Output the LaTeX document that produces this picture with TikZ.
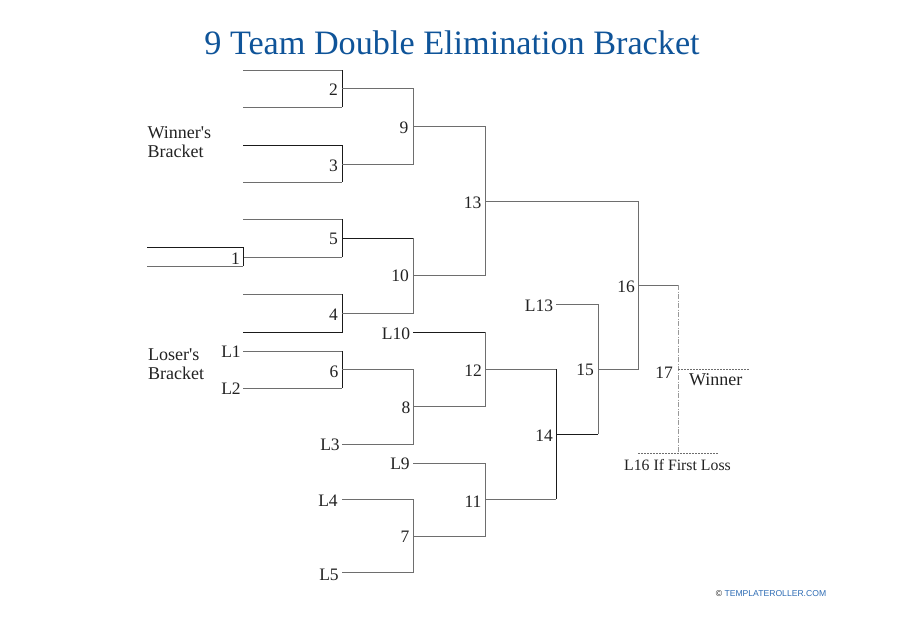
\documentclass[tikz,border=0pt]{standalone}
\usepackage{fontspec}
\setmainfont{Liberation Serif}
\newfontfamily\footfont{Liberation Sans}
\definecolor{titleblue}{HTML}{0F5499}
\definecolor{linegray}{HTML}{6E6E6E}
\definecolor{lineblack}{HTML}{1A1A1A}
\definecolor{footblue}{HTML}{2F6DB5}
\definecolor{textdark}{HTML}{222222}
\tikzset{
  gline/.style={draw=linegray,line width=1pt},
  kline/.style={draw=lineblack,line width=0.8pt},
  dotline/.style={draw=linegray,line width=0.7pt,dash pattern=on 1.5pt off 1.5pt},
  dashv/.style={draw=linegray!70,line width=0.8pt,dash pattern=on 5pt off 1.5pt on 1pt off 1.5pt},
  lab/.style={inner sep=0pt,text=textdark,yshift=-0.6pt,font=\fontsize{17.5}{19}\selectfont},
  small/.style={inner sep=0pt,text=textdark,font=\fontsize{18}{19}\selectfont,align=left}
}
\newcommand{\PT}[3]{\coordinate (#1) at (#2pt,-#3pt);}
\begin{document}
\begin{tikzpicture}[x=1pt,y=1pt]
\useasboundingbox (0,0) rectangle (905,-640);
\fill[white] (0,0) rectangle (905,-640);
% title
\node[inner sep=0pt,text=titleblue,font=\fontsize{34.2}{40}\selectfont] (title) at (452,-43) {9 Team Double Elimination Bracket};
% winner's bracket corners
\PT{a1}{243}{70}\PT{a2}{342}{70}\PT{a3}{342}{107}\PT{a4}{243}{107}
\PT{b1}{243}{145}\PT{b2}{342}{145}\PT{b3}{342}{182}\PT{b4}{243}{182}
\PT{c1}{243}{219}\PT{c2}{342}{219}\PT{c3}{342}{257}\PT{c4}{243}{257}
\PT{d1}{243}{294}\PT{d2}{342}{294}\PT{d3}{342}{332}\PT{d4}{243}{332}
\PT{e1}{147}{247}\PT{e2}{243}{247}\PT{e3}{243}{266}\PT{e4}{147}{266}
\PT{f1}{342}{88}\PT{f2}{413}{88}\PT{f3}{413}{164}\PT{f4}{342}{164}
\PT{g1}{342}{238}\PT{g2}{413}{238}\PT{g3}{413}{313}\PT{g4}{342}{313}
\PT{h1}{413}{126}\PT{h2}{485}{126}\PT{h3}{485}{275}\PT{h4}{413}{275}
\PT{i1}{485}{201}\PT{i2}{638}{201}\PT{i3}{638}{369}\PT{i4}{598}{369}
% loser's bracket corners
\PT{j1}{243}{351}\PT{j2}{342}{351}\PT{j3}{342}{388}\PT{j4}{243}{388}
\PT{k1}{342}{369}\PT{k2}{413}{369}\PT{k3}{413}{444}\PT{k4}{342}{444}
\PT{l1}{342}{499}\PT{l2}{413}{499}\PT{l3}{413}{572}\PT{l4}{342}{572}
\PT{m1}{413}{332}\PT{m2}{485}{332}\PT{m3}{485}{406}\PT{m4}{413}{406}
\PT{n1}{413}{463}\PT{n2}{485}{463}\PT{n3}{485}{536}\PT{n4}{413}{536}
\PT{o1}{485}{369}\PT{o2}{556}{369}\PT{o3}{556}{499}\PT{o4}{485}{499}
\PT{p1}{556}{304}\PT{p2}{598}{304}\PT{p3}{598}{434}\PT{p4}{556}{434}
\PT{q1}{638}{285}\PT{q2}{678}{285}\PT{q3}{678}{453}
\PT{r1}{678}{369}\PT{r2}{750}{369}
\PT{s1}{638}{453}\PT{s2}{719}{453}
% lines
\draw[gline] (a1) -- (a2);
\draw[kline] (a2) -- (a3);
\draw[gline] (a3) -- (a4);
\draw[kline] (b1) -- (b2) -- (b3);
\draw[gline] (b3) -- (b4);
\draw[gline] (c1) -- (c2);
\draw[kline] (c2) -- (c3);
\draw[gline] (c3) -- (c4);
\draw[gline] (d1) -- (d2);
\draw[kline] (d2) -- (d3) -- (d4);
\draw[kline] (e1) -- (e2) -- (e3);
\draw[gline] (e3) -- (e4);
\draw[gline] (f1) -- (f2) -- (f3) -- (f4);
\draw[kline] (g1) -- (g2);
\draw[gline] (g2) -- (g3) -- (g4);
\draw[gline] (h1) -- (h2) -- (h3) -- (h4);
\draw[gline] (i1) -- (i2) -- (i3) -- (i4);
\draw[gline] (j1) -- (j2);
\draw[kline] (j2) -- (j3);
\draw[gline] (j3) -- (j4);
\draw[gline] (k1) -- (k2) -- (k3) -- (k4);
\draw[gline] (l1) -- (l2) -- (l3) -- (l4);
\draw[kline] (m1) -- (m2);
\draw[gline] (m2) -- (m3) -- (m4);
\draw[gline] (n1) -- (n2) -- (n3) -- (n4);
\draw[gline] (o1) -- (o2);
\draw[kline] (o2) -- (o3);
\draw[gline] (o3) -- (o4);
\draw[gline] (p1) -- (p2) -- (p3);
\draw[kline] (p3) -- (p4);
\draw[gline] (q1) -- (q2);
\draw[dashv] (q2) -- (q3);
\draw[dotline] (r1) -- (r2);
\draw[dotline] (s1) -- (s2);
% labels
\node[lab] (t2) at (333.5,-89) {2};
\node[lab] (t3) at (333.5,-165) {3};
\node[lab] (t5) at (333.5,-238) {5};
\node[lab] (t4) at (333.5,-314) {4};
\node[lab] (t1) at (235.5,-258) {1};
\node[lab] (t9) at (404,-127) {9};
\node[lab] (t10) at (400,-275) {10};
\node[lab] (t13) at (472.5,-202) {13};
\node[lab] (tL10) at (396,-333) {L10};
\node[lab] (tL1) at (231,-351) {L1};
\node[lab] (tL2) at (231,-388) {L2};
\node[lab] (t6) at (334,-371) {6};
\node[lab] (t8) at (406,-407) {8};
\node[lab] (tL3) at (330,-444) {L3};
\node[lab] (tL9) at (400,-463) {L9};
\node[lab] (tL4) at (328,-500) {L4};
\node[lab] (tL5) at (329,-574) {L5};
\node[lab] (t7) at (405,-536) {7};
\node[lab] (t12) at (473,-370) {12};
\node[lab] (t11) at (473,-501) {11};
\node[lab] (t14) at (544,-435) {14};
\node[lab] (tL13) at (539,-305) {L13};
\node[lab] (t15) at (585,-369) {15};
\node[lab] (t16) at (626,-286) {16};
\node[lab] (t17) at (664,-372) {17};
\node[small,anchor=west] (winner) at (689,-379.5) {Winner};
\node[inner sep=0pt,text=textdark,font=\fontsize{15.8}{17}\selectfont] (loss) at (677.5,-465) {L16 If First Loss};
\node[small,anchor=west] (wb) at (147.5,-142) {Winner\textquotesingle s\\Bracket};
\node[small,anchor=west] (lb) at (148,-364.5) {Loser\textquotesingle s\\Bracket};
\node[inner sep=0pt,font=\footfont\fontsize{8.6}{10}\selectfont,text=footblue] (foot) at (771,-594) {{\color{textdark}©} TEMPLATEROLLER.COM};
\end{tikzpicture}
\end{document}
